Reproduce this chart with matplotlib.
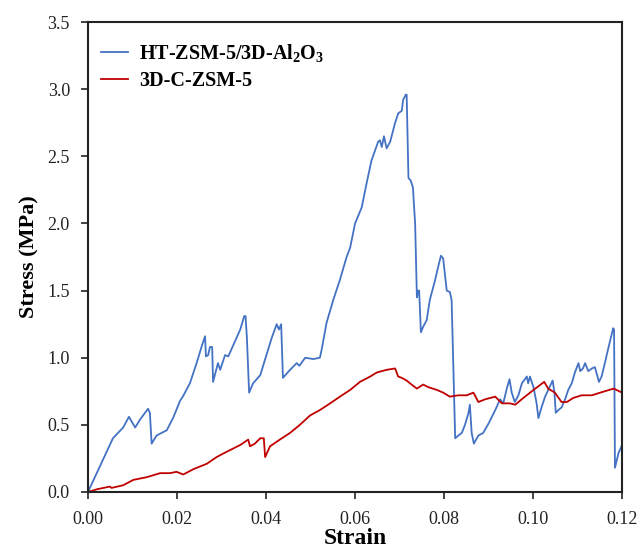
import matplotlib
matplotlib.use("Agg")
import matplotlib.pyplot as plt
from matplotlib.ticker import FormatStrFormatter

plt.rcParams["font.family"] = ["Liberation Serif", "DejaVu Serif"]
plt.rcParams["mathtext.fontset"] = "custom"
plt.rcParams["mathtext.rm"] = "Liberation Serif"
plt.rcParams["mathtext.bf"] = "Liberation Serif:bold"

# HT-ZSM-5/3D-Al2O3 (blue)
strain_ht = [0.0, 0.0042, 0.0056, 0.0079, 0.0092, 0.0106, 0.0117, 0.0135, 0.0139,
             0.0143, 0.0154, 0.0177, 0.0191, 0.0207, 0.0213, 0.0229, 0.0244, 0.0255,
             0.0263, 0.0265, 0.0270, 0.0274, 0.0279, 0.0281, 0.0292, 0.0297, 0.0308,
             0.0315, 0.0326, 0.0342, 0.0351, 0.0354, 0.0357, 0.0362, 0.0371, 0.0387,
             0.0402, 0.0413, 0.0424, 0.0429, 0.0434, 0.0438, 0.0454, 0.0469, 0.0475,
             0.0488, 0.0506, 0.0521, 0.0525, 0.0536, 0.0551, 0.0566, 0.0581, 0.0589,
             0.0600, 0.0615, 0.0626, 0.0637, 0.0652, 0.0656, 0.0660, 0.0665, 0.0671,
             0.0679, 0.0690, 0.0697, 0.0705, 0.0708, 0.0714, 0.0716, 0.0720, 0.0725,
             0.0730, 0.0735, 0.0739, 0.0742, 0.0744, 0.0748, 0.0753, 0.0761, 0.0768,
             0.0780, 0.0787, 0.0793, 0.0798, 0.0806, 0.0813, 0.0817, 0.0819, 0.0825,
             0.0832, 0.0840, 0.0847, 0.0855, 0.0858, 0.0862, 0.0867, 0.0877, 0.0888,
             0.0900, 0.0915, 0.0926, 0.0933, 0.0941, 0.0947, 0.0952, 0.0959, 0.0967,
             0.0975, 0.0986, 0.0989, 0.0993, 0.1001, 0.1008, 0.1012, 0.1019, 0.1027,
             0.1034, 0.1044, 0.1048, 0.1051, 0.1057, 0.1064, 0.1072, 0.1079, 0.1087,
             0.1094, 0.1102, 0.1106, 0.1112, 0.1117, 0.1124, 0.1132, 0.1139, 0.1148,
             0.1154, 0.1162, 0.1169, 0.1180, 0.1182, 0.1184, 0.1192, 0.1200]
stress_ht = [0.0, 0.30, 0.40, 0.48, 0.56, 0.48, 0.54, 0.62, 0.59,
             0.36, 0.42, 0.46, 0.55, 0.68, 0.71, 0.81, 0.96, 1.08,
             1.16, 1.01, 1.02, 1.08, 1.08, 0.82, 0.96, 0.91, 1.02,
             1.01, 1.09, 1.21, 1.31, 1.31, 1.15, 0.74, 0.81, 0.87,
             1.03, 1.15, 1.25, 1.21, 1.25, 0.85, 0.91, 0.96, 0.94,
             1.00, 0.99, 1.00, 1.06, 1.26, 1.43, 1.58, 1.75, 1.82,
             2.00, 2.12, 2.30, 2.47, 2.61, 2.62, 2.57, 2.65, 2.56,
             2.61, 2.75, 2.82, 2.84, 2.92, 2.96, 2.96, 2.34, 2.32,
             2.27, 2.00, 1.45, 1.50, 1.50, 1.19, 1.23, 1.28, 1.43,
             1.58, 1.68, 1.76, 1.74, 1.50, 1.49, 1.43, 1.18, 0.40,
             0.42, 0.44, 0.50, 0.59, 0.65, 0.44, 0.36, 0.42, 0.44,
             0.51, 0.61, 0.69, 0.66, 0.77, 0.84, 0.74, 0.67, 0.72,
             0.81, 0.86, 0.81, 0.86, 0.78, 0.66, 0.55, 0.63, 0.71,
             0.76, 0.83, 0.74, 0.59, 0.61, 0.63, 0.69, 0.76, 0.81,
             0.89, 0.96, 0.90, 0.92, 0.96, 0.90, 0.92, 0.93, 0.82,
             0.86, 0.97, 1.07, 1.22, 1.21, 0.18, 0.29, 0.35]

# 3D-C-ZSM-5 (red)
strain_c = [0.0, 0.0020, 0.0049, 0.0053, 0.0079, 0.0102, 0.0132, 0.0162, 0.0184,
            0.0199, 0.0214, 0.0237, 0.0267, 0.0289, 0.0312, 0.0342, 0.0360, 0.0364,
            0.0375, 0.0387, 0.0395, 0.0398, 0.0409, 0.0431, 0.0454, 0.0476, 0.0499,
            0.0521, 0.0544, 0.0566, 0.0589, 0.0611, 0.0634, 0.0649, 0.0671, 0.0690,
            0.0697, 0.0705, 0.0716, 0.0727, 0.0739, 0.0753, 0.0765, 0.0784, 0.0798,
            0.0813, 0.0832, 0.0851, 0.0866, 0.0877, 0.0892, 0.0915, 0.0930, 0.0948,
            0.0960, 0.0978, 0.1001, 0.1025, 0.1034, 0.1049, 0.1064, 0.1076, 0.1090,
            0.1109, 0.1132, 0.1151, 0.1181, 0.1200]
stress_c = [0.0, 0.02, 0.04, 0.03, 0.05, 0.09, 0.11, 0.14, 0.14,
            0.15, 0.13, 0.17, 0.21, 0.26, 0.30, 0.35, 0.39, 0.34,
            0.36, 0.40, 0.40, 0.26, 0.34, 0.39, 0.44, 0.50, 0.57,
            0.61, 0.66, 0.71, 0.76, 0.82, 0.86, 0.89, 0.91, 0.92,
            0.86, 0.85, 0.83, 0.80, 0.77, 0.80, 0.78, 0.76, 0.74,
            0.71, 0.72, 0.72, 0.74, 0.67, 0.69, 0.71, 0.66, 0.66,
            0.65, 0.70, 0.76, 0.82, 0.77, 0.74, 0.67, 0.67, 0.70,
            0.72, 0.72, 0.74, 0.77, 0.74]

fig = plt.figure(figsize=(6.4, 5.54), dpi=100)
ax = fig.add_axes([0.1375, 0.112, 0.8345, 0.848])

ax.plot(strain_ht, stress_ht, color="#4472C4", lw=1.3,
        label=r"HT-ZSM-5/3D-Al$_\mathbf{2}$O$_\mathbf{3}$")
ax.plot(strain_c, stress_c, color="#C00000", lw=1.3, label="3D-C-ZSM-5")

ax.set_xlim(0, 0.12)
ax.set_ylim(0, 3.5)
ax.set_xticks([0, 0.02, 0.04, 0.06, 0.08, 0.10, 0.12])
ax.set_yticks([0, 0.5, 1.0, 1.5, 2.0, 2.5, 3.0, 3.5])
ax.xaxis.set_major_formatter(FormatStrFormatter("%.2f"))
ax.yaxis.set_major_formatter(FormatStrFormatter("%.1f"))
ax.tick_params(direction="out", length=5, width=1.2, labelsize=13, colors="#222222")
ax.tick_params(axis="x", pad=9)
ax.tick_params(axis="y", pad=8)
for sp in ax.spines.values():
    sp.set_linewidth(1.5)
    sp.set_color("#222222")

ax.set_xlabel("Strain", fontsize=17, fontweight="bold", labelpad=0)
ax.set_ylabel("Stress (MPa)", fontsize=16, fontweight="bold", labelpad=6)

leg = ax.legend(loc="upper left", bbox_to_anchor=(-0.013, 1.0), frameon=False,
                prop={"weight": "bold", "size": 14.5},
                handlelength=1.35, handletextpad=0.55, borderaxespad=0.3,
                borderpad=0.7, labelspacing=0.3)

fig.savefig("out.png", dpi=100)
